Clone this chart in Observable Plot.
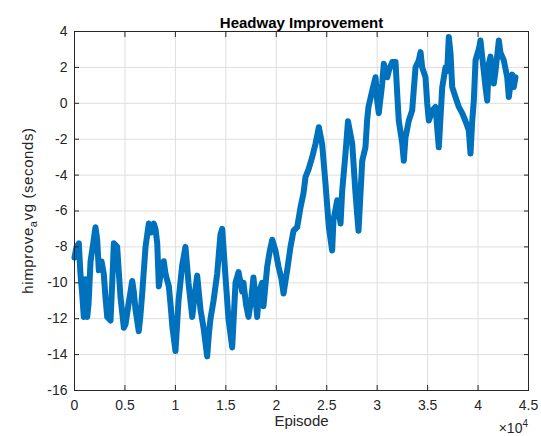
<!DOCTYPE html>
<html>
<head>
<meta charset="utf-8">
<script src="https://cdn.jsdelivr.net/npm/d3@7"></script>
<script src="https://cdn.jsdelivr.net/npm/@observablehq/plot@0.6"></script>
<style>
  html, body { margin: 0; padding: 0; background: #fff; }
  #chart svg { display: block; }
</style>
</head>
<body>
<div id="chart"></div>
<script>
// ---- data ----
const title = "Headway Improvement";
const xLabel = "Episode";
const yLabelMain = "himprove";
const yLabelSub = "a";
const yLabelRest = "vg (seconds)";
const xExponent = "4";

const episodes = [
  0, 200, 430, 590, 760, 920, 1090, 1260, 1390, 1590, 1830, 2080, 2250, 2410, 2680, 2900,
  3070, 3240, 3570, 3740, 3900, 4230, 4390, 4560, 4890, 5060, 5380, 5720, 5880, 6050, 6370,
  6540, 6710, 7040, 7360, 7580, 7860, 8030, 8200, 8360, 8520, 8850, 9020, 9350, 9520, 9710,
  10010, 10310, 10680, 11000, 11300, 11670, 11890, 12160, 12490, 12790, 13150, 13330, 13480,
  13780, 14140, 14470, 14640, 14970, 15260, 15630, 15960, 16260, 16620, 16750, 17000, 17250,
  17540, 17740, 18110, 18290, 18600, 18730, 19100, 19330, 19600, 19920, 20220, 20520, 20720,
  21080, 21410, 21710, 22070, 22400, 22700, 22900, 23190, 23560, 23890, 24220, 24550, 24880,
  25210, 25540, 25670, 26040, 26370, 26530, 26860, 27110, 27530, 27850, 28150, 28520, 28840,
  29010, 29140, 29510, 29840, 30000, 30160, 30500, 30660, 31000, 31150, 31490, 31820, 31990,
  32140, 32480, 32640, 32810, 33140, 33470, 33800, 34130, 34300, 34460, 34790, 34960, 35120,
  35460, 35780, 36110, 36450, 36770, 36940, 37100, 37270, 37440, 37760, 38090, 38430, 38760,
  39080, 39250, 39420, 39580, 39750, 40070, 40240, 40410, 40740, 40910, 41070, 41230, 41560,
  41730, 42060, 42230, 42550, 42890, 43050, 43220, 43390, 43540, 43710
];

const himprove = [
  -8.6, -8.0, -7.8, -9.5, -10.6, -11.9, -9.8, -11.9, -11.2, -8.8, -7.9, -6.9, -7.6, -9.3, -8.8, -9.5,
  -10.8, -11.9, -12.1, -10.0, -7.8, -8.0, -9.4, -10.8, -12.5, -12.3, -11.1, -9.9, -10.5, -11.5, -12.7,
  -11.8, -10.6, -8.0, -6.7, -7.2, -6.7, -7.0, -7.8, -10.2, -9.6, -8.8, -9.5, -10.2, -11.2, -12.5,
  -13.8, -11.0, -9.0, -8.0, -10.0, -11.9, -10.8, -9.6, -11.5, -12.5, -14.1, -12.8, -12.0,
  -11.0, -9.5, -7.3, -7.0, -9.7, -12.0, -13.6, -10.0, -9.4, -10.5, -10.0, -11.2, -11.9,
  -10.8, -9.7, -11.9, -10.5, -10.0, -11.3, -9.1, -8.3, -7.6, -8.2, -9.1, -9.8, -10.6,
  -9.3, -8.0, -7.1, -6.9, -5.8, -5.0, -4.1, -3.7, -3.0, -2.25, -1.33, -2.3, -4.5,
  -6.9, -8.2, -6.5, -5.4, -6.7, -4.9, -2.8, -1.0, -2.25, -5.0, -7.1, -3.2, -2.45,
  -0.9, -0.2, 0.7, 1.45, 0.15, -0.55, 1.1, 2.2, 1.45, 1.8, 2.3, 2.3, 0.5,
  -0.96, -2.2, -3.2, -1.9, -0.96, -0.4, 2.0, 2.4, 2.85, 2.0, 1.45, 0.0, -0.96,
  -0.4, -0.2, -2.45, 0.9, 2.0, 1.8, 3.7, 2.8, 0.9, 0.35, -0.2, -0.55, -1.0,
  -1.5, -2.8, -1.0, 0.15, 2.4, 3.0, 3.5, 2.6, 0.9, 0.15, 2.2, 2.6, 1.1,
  1.8, 3.5, 2.8, 2.4, 1.45, 0.35, 1.1, 1.6, 0.9, 1.45
];

const xTicks = [0, 5000, 10000, 15000, 20000, 25000, 30000, 35000, 40000, 45000];
const yTicks = [-16, -14, -12, -10, -8, -6, -4, -2, 0, 2, 4];

// ---- build ----
const data = episodes.map((e, i) => ({episode: e, value: himprove[i]}));
const axisColor = "#262626";
const gridColor = "#dedede";
const lineColor = "#0072BD";
const font = "'Liberation Sans', Arial, Helvetica, sans-serif";

const W = 541, H = 436, mL = 74, mR = 13, mT = 31, mB = 46;

const chart = Plot.plot({
  width: W, height: H,
  marginLeft: mL, marginRight: mR, marginTop: mT, marginBottom: mB,
  style: {fontFamily: font, fontSize: "14px", color: axisColor, background: "#fff"},
  x: {domain: [0, 45000]},
  y: {domain: [-16, 4]},
  marks: [
    Plot.gridX(xTicks, {stroke: gridColor, strokeOpacity: 1}),
    Plot.gridY(yTicks, {stroke: gridColor, strokeOpacity: 1}),
    Plot.line(data, {x: "episode", y: "value", stroke: lineColor, strokeWidth: 6, strokeLinejoin: "round", strokeLinecap: "round"}),
    Plot.frame({stroke: axisColor, strokeWidth: 1}),
    Plot.axisX(xTicks, {anchor: "bottom", tickSize: -5, tickPadding: 15, tickFormat: d => String(d / 10000), label: null, fill: axisColor, stroke: axisColor}),
    Plot.axisX(xTicks, {anchor: "top", tickSize: -5, tickFormat: () => "", label: null, stroke: axisColor}),
    Plot.axisY(yTicks, {anchor: "left", tickSize: -5, tickPadding: 12, tickFormat: d => String(d), label: null, fill: axisColor, stroke: axisColor}),
    Plot.axisY(yTicks, {anchor: "right", tickSize: -5, tickFormat: () => "", label: null, stroke: axisColor}),
    Plot.text([title], {text: d => d, frameAnchor: "top", dy: -14, fontWeight: "bold", fontSize: 15, fill: "#000"}),
    Plot.text([xLabel], {text: d => d, frameAnchor: "bottom", dy: 35, fontSize: 15, fill: axisColor})
  ]
});

document.getElementById("chart").appendChild(chart);

// y label with subscript, and x exponent
const svg = d3.select(chart);
const cy = mT + (H - mT - mB) / 2;
const yl = svg.append("text")
  .attr("transform", `translate(33,${cy}) rotate(-90)`)
  .attr("text-anchor", "middle")
  .attr("font-family", font)
  .attr("font-size", 15)
  .attr("letter-spacing", 0.6)
  .attr("fill", axisColor);
yl.append("tspan").text(yLabelMain);
yl.append("tspan").attr("dy", 4).attr("font-size", 11).text(yLabelSub);
yl.append("tspan").attr("dy", -4).text(yLabelRest);

const ex = svg.append("text")
  .attr("x", W - mR)
  .attr("y", 433)
  .attr("text-anchor", "end")
  .attr("font-family", font)
  .attr("font-size", 14)
  .attr("fill", axisColor);
ex.append("tspan").text("×10");
ex.append("tspan").attr("dy", -6).attr("font-size", 10).text(xExponent);
</script>
</body>
</html>
